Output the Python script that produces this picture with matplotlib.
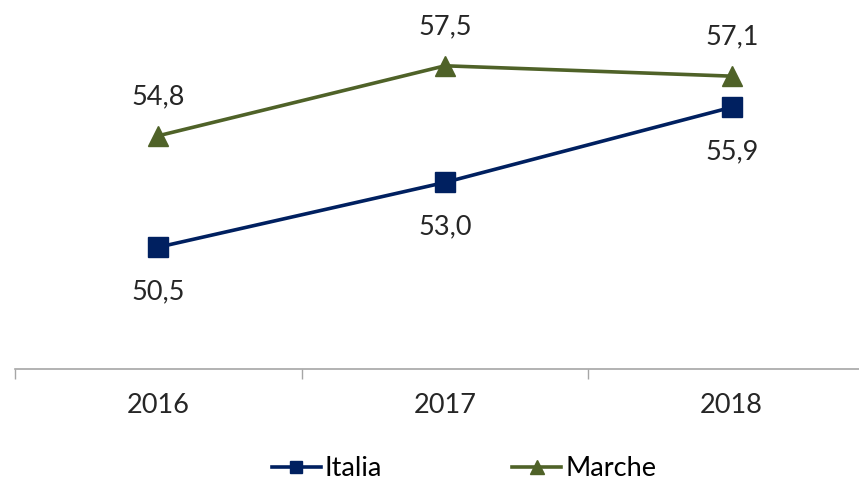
import matplotlib.pyplot as plt
import matplotlib as mpl
import numpy as np

mpl.rcParams["font.family"] = ["Lato", "DejaVu Sans"]

# ─── 데이터 ───
YEARS = ["2016", "2017", "2018"]
ITALIA = [50.5, 53.0, 55.9]
MARCHE = [54.8, 57.5, 57.1]

C_ITALIA = "#002060"
C_MARCHE = "#4F6228"
TXT = "#262626"

W, H = 859, 483
fig = plt.figure(figsize=(W / 100, H / 100), dpi=100)
# plot area in pixels: x 15..875, y 1..369
ax = fig.add_axes([15 / W, 1 - 369 / H, 860 / W, 368 / H])

x = np.arange(len(YEARS))
ax.plot(x, ITALIA, color=C_ITALIA, lw=2.6, marker="s", ms=14, label="Italia")
ax.plot(x, MARCHE, color=C_MARCHE, lw=2.6, marker="^", ms=15, label="Marche")

for i, v in enumerate(ITALIA):
    ax.annotate(f"{v:.1f}".replace(".", ","), (i, v), xytext=(0, -32),
                textcoords="offset points", ha="center", va="center", fontsize=19.5, color=TXT)
for i, v in enumerate(MARCHE):
    ax.annotate(f"{v:.1f}".replace(".", ","), (i, v), xytext=(0, 28),
                textcoords="offset points", ha="center", va="center", fontsize=19.5, color=TXT)

ax.set_xlim(-0.5, 2.5)
ax.set_ylim(45.8, 60)
ax.set_yticks([])
ax.set_xticks(x)
ax.set_xticklabels(YEARS, fontsize=19.5, color=TXT)
ax.set_xticks([-0.5, 0.5, 1.5, 2.5], minor=True)
ax.tick_params(axis="x", which="major", length=0, pad=17)
ax.tick_params(axis="x", which="minor", length=7, color="#A6A6A6", width=1)
for s in ["top", "right", "left"]:
    ax.spines[s].set_visible(False)
ax.spines["bottom"].set_color("#A6A6A6")
ax.spines["bottom"].set_linewidth(1.2)

fig.legend(loc="center", bbox_to_anchor=(464 / W, 1 - 469 / H), ncol=2, frameon=False,
           fontsize=19.5, handlelength=1.8, handletextpad=0.15, columnspacing=4.8,
           markerscale=0.65)

fig.savefig("out.png", dpi=100)
